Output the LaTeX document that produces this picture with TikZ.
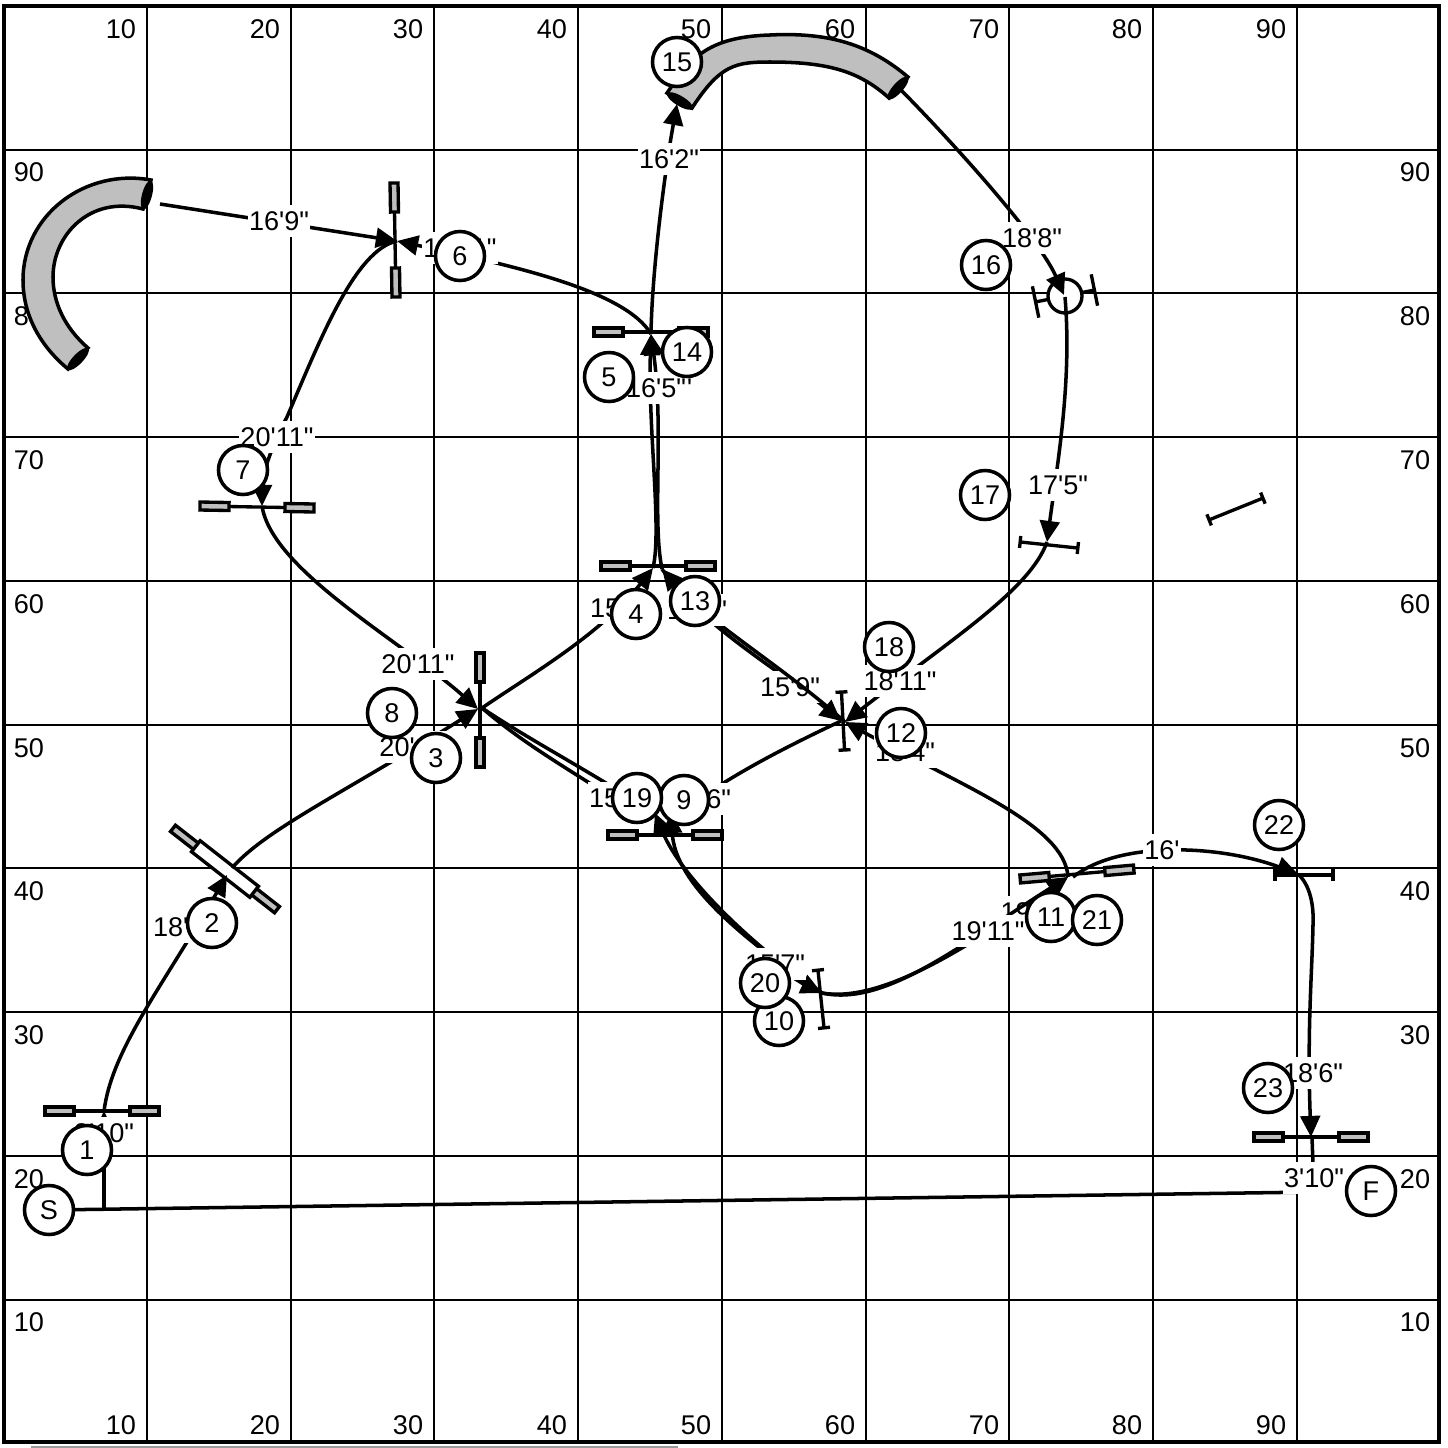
\documentclass[tikz,border=0pt]{standalone}
\usepackage{fontspec}
\newfontfamily\coursefont{Liberation Sans}
\usetikzlibrary{arrows.meta}

\begin{document}
\begin{tikzpicture}[
  x=0.01cm, y=-0.01cm,
  every node/.style={font=\coursefont\fontsize{7.7}{9}\selectfont},
  gridline/.style={line width=0.3pt},
  frameline/.style={line width=1pt},
  tick/.style={inner sep=0pt},
  leg/.style={line width=1pt},
  legtip/.style={leg, -{Triangle[length=6pt, width=5.6pt]}},
  dist/.style={fill=white, inner sep=0pt, inner xsep=0.3pt, text height=0.25cm, text depth=0.07cm},
  num/.style={circle, draw, fill=white, line width=1pt, minimum size=0.49cm, inner sep=0pt},
  barline/.style={line width=0.95pt},
  wing/.style={line width=0.95pt, fill=black!25},
  tunnel/.style={line width=1pt, fill=black!25},
  wingjump/.pic={
    \draw[barline] (-28,0) -- (28,0);
    \draw[wing] (-57,-4) rectangle (-28,4);
    \draw[wing] (28,-4) rectangle (57,4);
  },
  spreadjump/.pic={
    \draw[wing] (-66,-4) rectangle (-36,4);
    \draw[wing] (36,-4) rectangle (66,4);
    \draw[barline, fill=white] (-37,-7) rectangle (37,7);
  },
  capjump/.pic={
    \draw[barline] (-29,0) -- (29,0);
    \draw[barline] (-29,-6) -- (-29,6);
    \draw[barline] (29,-6) -- (29,6);
  },
  tirejump/.pic={
    \draw[barline, fill=white] (0,0) circle (17);
    \draw[barline] (-30,0) -- (-17,0);
    \draw[barline] (17,0) -- (30,0);
    \draw[barline] (-30,-16) -- (-30,16);
    \draw[barline] (30,-16) -- (30,16);
  },
]
\useasboundingbox (0,0) rectangle (1448,1448);

% --- frame and grid ---
\draw[gridline] (147,6) -- (147,1442) (291,6) -- (291,1442) (434,6) -- (434,1442);
\draw[gridline] (578,6) -- (578,1442) (722,6) -- (722,1442) (866,6) -- (866,1442);
\draw[gridline] (1009,6) -- (1009,1442) (1153,6) -- (1153,1442) (1297,6) -- (1297,1442);
\draw[gridline] (4,150) -- (1439,150) (4,293) -- (1439,293) (4,437) -- (1439,437);
\draw[gridline] (4,581) -- (1439,581) (4,725) -- (1439,725) (4,868) -- (1439,868);
\draw[gridline] (4,1012) -- (1439,1012) (4,1156) -- (1439,1156) (4,1300) -- (1439,1300);
\draw[frameline] (4,6) rectangle (1439,1442);
\draw[gridline, black!40] (31,1447) -- (678,1447);

% --- numbers along the top ---
\node[tick] (tt10) at (121,29) {10};
\node[tick] (tt20) at (265,29) {20};
\node[tick] (tt30) at (408,29) {30};
\node[tick] (tt40) at (552,29) {40};
\node[tick] (tt50) at (696,29) {50};
\node[tick] (tt60) at (840,29) {60};
\node[tick] (tt70) at (984,29) {70};
\node[tick] (tt80) at (1127,29) {80};
\node[tick] (tt90) at (1271,29) {90};

% --- numbers along the bottom ---
\node[tick] (bt10) at (121,1425) {10};
\node[tick] (bt20) at (265,1425) {20};
\node[tick] (bt30) at (408,1425) {30};
\node[tick] (bt40) at (552,1425) {40};
\node[tick] (bt50) at (696,1425) {50};
\node[tick] (bt60) at (840,1425) {60};
\node[tick] (bt70) at (984,1425) {70};
\node[tick] (bt80) at (1127,1425) {80};
\node[tick] (bt90) at (1271,1425) {90};

% --- numbers on the left ---
\node[tick] (lt90) at (29,172) {90};
\node[tick] (lt80) at (29,316) {80};
\node[tick] (lt70) at (29,460) {70};
\node[tick] (lt60) at (29,604) {60};
\node[tick] (lt50) at (29,748) {50};
\node[tick] (lt40) at (29,891) {40};
\node[tick] (lt30) at (29,1035) {30};
\node[tick] (lt20) at (29,1179) {20};
\node[tick] (lt10) at (29,1322) {10};

% --- numbers on the right ---
\node[tick] (rt90) at (1415,172) {90};
\node[tick] (rt80) at (1415,316) {80};
\node[tick] (rt70) at (1415,460) {70};
\node[tick] (rt60) at (1415,604) {60};
\node[tick] (rt50) at (1415,748) {50};
\node[tick] (rt40) at (1415,891) {40};
\node[tick] (rt30) at (1415,1035) {30};
\node[tick] (rt20) at (1415,1179) {20};
\node[tick] (rt10) at (1415,1322) {10};

% --- tunnels ---
\draw[tunnel] (151,180) .. controls (85,168) and (23,215) .. (23,280) .. controls (23,320) and (45,350) .. (68,369)
  -- (88,348) .. controls (65,328) and (53,303) .. (53,277) .. controls (53,235) and (90,195) .. (143,209) -- cycle;
\fill[rotate around={75:(147,195)}] (147,195) ellipse (15 and 5);
\fill[rotate around={46:(78,359)}] (78,359) ellipse (15 and 5);
\draw[tunnel] (667,93) .. controls (690,60) and (705,37) .. (770,35) .. controls (830,32) and (870,45) .. (908,77)
  -- (889,98) .. controls (860,72) and (830,62) .. (770,62) .. controls (735,62) and (720,65) .. (692,108) -- cycle;
\fill[rotate around={-31:(680,101)}] (680,101) ellipse (15 and 5);
\fill[rotate around={48:(898,88)}] (898,88) ellipse (15 and 5);

% --- jumps ---
\pic[rotate=0] at (102,1111) {wingjump};
\pic[rotate=-38] at (225,869) {spreadjump};
\pic[rotate=90] at (480,710) {wingjump};
\pic[rotate=0] at (658,566) {wingjump};
\pic[rotate=0] at (651,332) {wingjump};
\pic[rotate=-89] at (395,240) {wingjump};
\pic[rotate=-1] at (257,507) {wingjump};
\pic[rotate=0] at (665,835) {wingjump};
\pic[rotate=5] at (1077,874) {wingjump};
\pic[rotate=0] at (1311,1137) {wingjump};
\pic[rotate=-87] at (843,721) {capjump};
\pic[rotate=-84] at (821,999) {capjump};
\pic[rotate=-6] at (1049,545) {capjump};
\pic[rotate=0] at (1304,875) {capjump};
\pic[rotate=22] at (1236,509) {capjump};
\pic[rotate=11.5] at (1065,296) {tirejump};

% --- points on the course ---
\coordinate (ps) at (49,1210);
\coordinate (turn1) at (104,1209);
\coordinate (turn2) at (1314,1192);
\coordinate (j1) at (104,1111);
\coordinate (j2) at (227,875);
\coordinate (j2out) at (232,868);
\coordinate (j3) at (478,709);
\coordinate (j3out) at (482,708);
\coordinate (j4l) at (653,568);
\coordinate (j4r) at (662,569);
\coordinate (j5) at (651,334);
\coordinate (j6) at (397,241);
\coordinate (j7) at (262,506);
\coordinate (j9a) at (650,810);
\coordinate (j9b) at (640,815);
\coordinate (j9c) at (684,810);
\coordinate (j9l) at (655,813);
\coordinate (j9r) at (671,812);
\coordinate (j10) at (822,993);
\coordinate (j10in) at (770,965);
\coordinate (j11) at (1068,877);
\coordinate (j11out) at (1073,877);
\coordinate (j12) at (841,721);
\coordinate (j12r) at (845,722);
\coordinate (j16) at (1064,295);
\coordinate (j16out) at (1065,297);
\coordinate (j17) at (1047,542);
\coordinate (j22) at (1298,874);
\coordinate (j23) at (1311,1137);
\coordinate (j23out) at (1312,1137);
\coordinate (bend22) at (1313,925);
\coordinate (t1out) at (160,204);
\coordinate (t2in) at (677,104);
\coordinate (t2out) at (901,90);

% --- course, in pieces, each with its distance ---
\draw[leg] (ps) -- (turn2);
\draw[legtip] (turn1) -- (j1);
\node[dist] (d1) at (104,1133) {3'10"};
\draw[legtip] (j1) .. controls (112,1050) and (160,990) .. (j2);
\node[dist] (d2) at (183,927) {18'4"};
\draw[legtip] (j2out) .. controls (265,830) and (340,795) .. (j3);
\node[dist] (d3) at (416,747) {20'11"};
\draw[legtip] (j3out) .. controls (530,675) and (600,635) .. (j4l);
\node[dist] (d4) at (620,608) {15'5"};
\draw[legtip] (j4r) .. controls (652,520) and (664,430) .. (j5);
\node[dist] (d5b) at (662,388) {16'5"};
\draw[legtip] (j4l) .. controls (662,530) and (648,430) .. (j5);
\node[dist] (d5) at (656,388) {16'5"};
\draw[legtip] (j5) .. controls (625,290) and (510,265) .. (j6);
\node[dist] (d6) at (460,248) {16'11"};
\draw[legtip] (t1out) -- (j6);
\node[dist] (d6b) at (279,221) {16'9"};
\draw[legtip] (j6) .. controls (355,250) and (320,340) .. (287,417) .. controls (272,445) and (262,475) .. (j7);
\node[dist] (d7) at (277,437) {20'11"};
\draw[legtip] (j7) .. controls (272,570) and (400,640) .. (j3);
\node[dist] (d8) at (418,664) {20'11"};
\draw[leg] (j3out) .. controls (530,740) and (570,760) .. (j9a);
\draw[leg] (j3out) .. controls (525,745) and (570,770) .. (j9b);
\node[dist] (d9) at (619,798) {15'7"};
\draw[leg] (j12) .. controls (790,745) and (730,775) .. (j9c);
\node[dist] (d19) at (701,799) {15'6"};
\draw[legtip] (j10) .. controls (750,945) and (680,875) .. (j9l);
\draw[legtip] (j10) .. controls (745,940) and (675,885) .. (j9r);
\draw[legtip] (j10in) .. controls (790,975) and (805,985) .. (j10);
\node[dist] (d10) at (775,964) {15'7"};
\draw[legtip] (j10) .. controls (880,1003) and (965,950) .. (j11);
\node[dist] (d21) at (1037,912) {19'11"};
\draw[legtip] (j10) .. controls (885,1007) and (960,945) .. (j11);
\node[dist] (d11) at (988,931) {19'11"};
\draw[legtip] (j11) .. controls (1065,825) and (960,785) .. (j12r);
\node[dist] (d12) at (905,752) {18'4"};
\draw[legtip] (j4r) .. controls (700,625) and (780,670) .. (j12);
\node[dist] (d15) at (790,687) {15'9"};
\draw[legtip] (j12r) .. controls (785,668) and (705,620) .. (j4r);
\node[dist] (d13) at (697,610) {15'9"};
\draw[legtip] (j5) .. controls (652,270) and (665,170) .. (t2in);
\node[dist] (d14) at (669,159) {16'2"};
\draw[legtip] (t2out) .. controls (960,150) and (1040,240) .. (j16);
\node[dist] (d16) at (1032,238) {18'8"};
\draw[legtip] (j16out) .. controls (1072,380) and (1058,460) .. (j17);
\node[dist] (d17) at (1058,485) {17'5"};
\draw[legtip] (j17) .. controls (1030,590) and (950,640) .. (j12r);
\node[dist] (d18) at (900,681) {18'11"};
\draw[legtip] (j11out) .. controls (1120,840) and (1220,845) .. (j22);
\node[dist] (d22) at (1162,850) {16'};
\draw[legtip] (j22) .. controls (1310,885) and (1314,905) .. (bend22) .. controls (1312,975) and (1307,1030) .. (j23);
\node[dist] (d23) at (1313,1073) {18'6"};
\draw[leg] (j23out) -- (turn2);
\node[dist] (d24) at (1314,1178) {3'10"};

% --- numbered circles ---
\node[num] (ns) at (49,1210) {S};
\node[num] (n1) at (87,1150) {1};
\node[num] (n2) at (212,923) {2};
\node[num] (n3) at (436,758) {3};
\node[num] (n4) at (636,614) {4};
\node[num] (n5) at (609,377) {5};
\node[num] (n6) at (460,256) {6};
\node[num] (n7) at (243,470) {7};
\node[num] (n8) at (392,713) {8};
\node[num] (n10) at (779,1021) {10};
\node[num] (n9) at (684,800) {9};
\node[num] (n11) at (1051,917) {11};
\node[num] (n12) at (901,733) {12};
\node[num] (n13) at (695,601) {13};
\node[num] (n14) at (687,352) {14};
\node[num] (n15) at (677,62) {15};
\node[num] (n16) at (986,265) {16};
\node[num] (n17) at (985,495) {17};
\node[num] (n18) at (889,647) {18};
\node[num] (n19) at (637,798) {19};
\node[num] (n20) at (765,983) {20};
\node[num] (n21) at (1097,920) {21};
\node[num] (n22) at (1279,825) {22};
\node[num] (n23) at (1268,1088) {23};
\node[num] (nf) at (1371,1191) {F};

\end{tikzpicture}
\end{document}
